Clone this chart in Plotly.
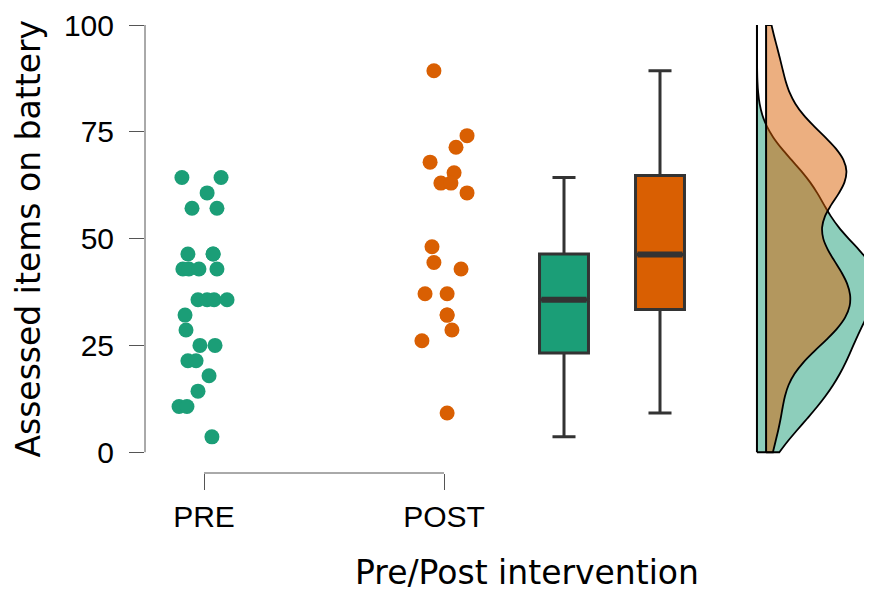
import plotly.graph_objects as go

# ---------------- data ----------------
categories = ["PRE", "POST"]
cat_pos = [1, 2]

pre_values = [64.3, 64.3, 60.7, 57.1, 57.1, 46.4, 46.4, 46.4, 42.9, 42.9, 42.9, 42.9,
              35.7, 35.7, 35.7, 35.7, 32.1, 28.6, 25.0, 25.0, 21.4, 21.4, 17.9, 14.3,
              10.7, 10.7, 3.6]
pre_jitter = [-0.092, 0.071, 0.013, -0.050, 0.054, -0.067, 0.038, 0.038, -0.088, -0.063,
              -0.021, 0.054, -0.025, 0.013, 0.042, 0.096, -0.079, -0.075, -0.017, 0.046,
              -0.067, -0.033, 0.021, -0.025, -0.104, -0.071, 0.033]

post_values = [89.3, 74.1, 71.4, 67.9, 65.4, 63.0, 63.0, 60.7, 48.1, 44.4, 42.9, 37.1,
               37.1, 32.1, 32.1, 28.6, 26.1, 9.2]
post_jitter = [-0.042, 0.096, 0.050, -0.058, 0.042, -0.013, 0.029, 0.096, -0.050, -0.042,
               0.071, -0.079, 0.013, 0.013, 0.013, 0.033, -0.092, 0.013]

# box-plot summary statistics
box_q1 = [23.2, 33.4]
box_median = [35.7, 46.3]
box_q3 = [46.4, 64.8]
box_lower = [3.6, 9.2]
box_upper = [64.3, 89.3]

y_ticks = [0, 25, 50, 75, 100]

# ---------------- styling / layout ----------------
GREEN = "#1b9e77"
ORANGE = "#d95f02"
GREEN_A = "rgba(27,158,119,0.5)"
ORANGE_A = "rgba(217,95,2,0.5)"
BOX_LINE = "#333333"
AXIS_COL = "#555555"

box_pos = [2.5, 2.9]
box_w = 0.204
violin_pos = [3.304, 3.342]
violin_w = [1.0, 0.7]
violin_bw = [8.0, 8.0]

fig = go.Figure()

# rain-cloud half violins (green first, orange on top)
for vals, pos, w, bw, fc in [(pre_values, violin_pos[0], violin_w[0], violin_bw[0], GREEN_A),
                             (post_values, violin_pos[1], violin_w[1], violin_bw[1], ORANGE_A)]:
    fig.add_trace(go.Violin(
        x0=pos, y=vals, side="positive", width=w, bandwidth=bw,
        spanmode="manual", span=[0, 100], scalemode="width",
        points=False, box_visible=False, meanline_visible=False,
        fillcolor=fc, line=dict(color="black", width=1.8),
        hoverinfo="skip", showlegend=False))

# violin base lines
for pos in violin_pos:
    fig.add_shape(type="line", xref="x", yref="y", x0=pos, x1=pos, y0=0, y1=100,
                  line=dict(color="black", width=2))

# box plots
for i, col in enumerate([GREEN, ORANGE]):
    fig.add_trace(go.Box(
        x=[box_pos[i]], q1=[box_q1[i]], median=[box_median[i]], q3=[box_q3[i]],
        lowerfence=[box_lower[i]], upperfence=[box_upper[i]],
        width=box_w, whiskerwidth=0.47, boxpoints=False,
        fillcolor=col, line=dict(color=BOX_LINE, width=3),
        hoverinfo="skip", showlegend=False))
    fig.add_trace(go.Scatter(
        x=[box_pos[i] - box_w / 2 + 0.008, box_pos[i] + box_w / 2 - 0.008],
        y=[box_median[i], box_median[i]], mode="lines",
        line=dict(color=BOX_LINE, width=6), hoverinfo="skip", showlegend=False))

# jittered points
fig.add_trace(go.Scatter(
    x=[cat_pos[0] + j for j in pre_jitter], y=pre_values, mode="markers",
    marker=dict(color=GREEN, size=15, line=dict(width=0)),
    hoverinfo="skip", showlegend=False))
fig.add_trace(go.Scatter(
    x=[cat_pos[1] + j for j in post_jitter], y=post_values, mode="markers",
    marker=dict(color=ORANGE, size=15, line=dict(width=0)),
    hoverinfo="skip", showlegend=False))

# range-frame axis lines
fig.add_shape(type="line", xref="paper", yref="y", x0=0, x1=0, y0=0, y1=100,
              line=dict(color=AXIS_COL, width=1))
fig.add_shape(type="line", xref="x", yref="paper", x0=cat_pos[0], x1=cat_pos[1], y0=0, y1=0,
              line=dict(color=AXIS_COL, width=1))

tick_font = dict(family="Liberation Sans, Arial, sans-serif", size=30, color="black")
title_font = dict(family="DejaVu Sans, sans-serif", size=33, color="black")

# the page body has an 8px margin, so the figure is 8px smaller than the window
fig.update_layout(
    width=864, height=588,
    margin=dict(l=137, r=0, t=12, b=123),
    paper_bgcolor="white", plot_bgcolor="white",
    showlegend=False,
    xaxis=dict(range=[0.75417, 3.78333], tickvals=cat_pos, ticktext=categories,
               ticks="outside", ticklen=16, tickcolor=AXIS_COL, tickwidth=1,
               showline=False, showgrid=False, zeroline=False,
               tickfont=tick_font, ticklabelstandoff=1),
    yaxis=dict(range=[-4.861, 100], tickvals=y_ticks,
               ticks="outside", ticklen=15, tickcolor=AXIS_COL, tickwidth=1,
               showline=False, showgrid=False, zeroline=False,
               tickfont=tick_font, ticklabelstandoff=9, ticklabeloverflow="allow"),
    annotations=[
        dict(text="Assessed items on battery", xref="paper", yref="paper",
             x=-145 / 727 + 29 / 727, y=(473 - 236) / 453, xanchor="center", yanchor="middle",
             textangle=-90, showarrow=False, font=title_font),
        dict(text="Pre/Post intervention", xref="paper", yref="paper",
             x=(527 - 145) / 727, y=-(574 - 473) / 453, xanchor="center", yanchor="middle",
             showarrow=False, font=title_font),
    ],
)

fig.write_html("out.html")
